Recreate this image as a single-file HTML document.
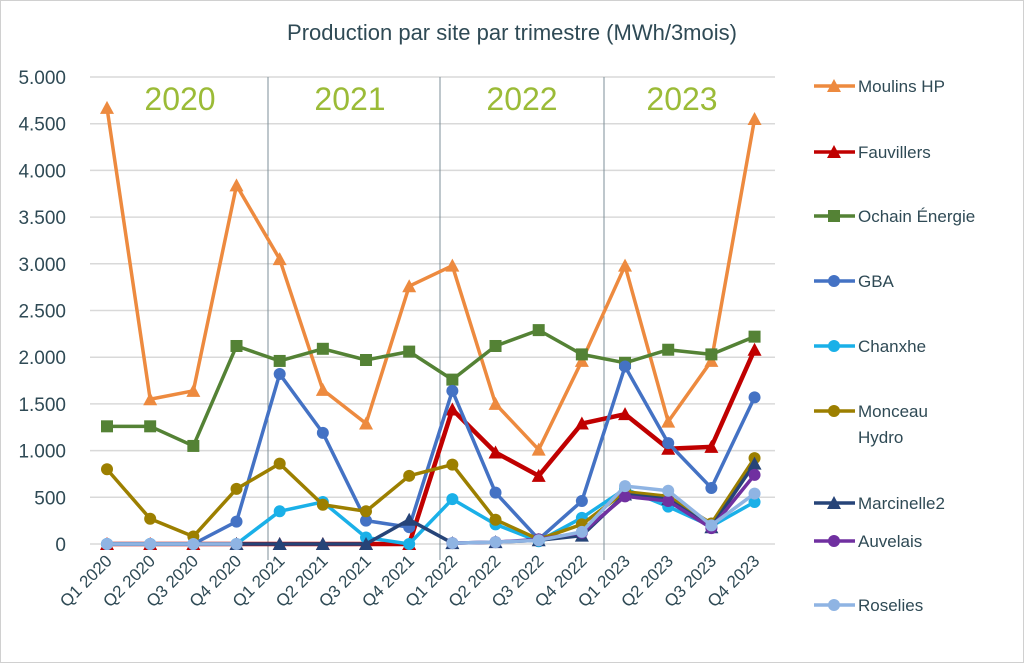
<!DOCTYPE html>
<html><head><meta charset="utf-8"><style>
body{margin:0;background:#fff}
svg{display:block;font-family:"Liberation Sans",sans-serif}
</style></head><body>
<svg id="c" width="1024" height="663" viewBox="0 0 1024 663" xmlns="http://www.w3.org/2000/svg">
<rect x="0.5" y="0.5" width="1023" height="662" fill="#fff" stroke="#d0d0d0"/>
<text x="512" y="40" text-anchor="middle" font-size="22" fill="#2f4a55">Production par site par trimestre (MWh/3mois)</text>
<g id="grid"></g>
<line x1="268" y1="77" x2="268" y2="560" stroke="#7d8f99" stroke-width="1"/>
<line x1="440" y1="77" x2="440" y2="560" stroke="#7d8f99" stroke-width="1"/>
<line x1="604" y1="77" x2="604" y2="560" stroke="#7d8f99" stroke-width="1"/>
<g font-size="32" fill="#9bbb37" text-anchor="middle">
<text x="180" y="110">2020</text><text x="350" y="110">2021</text>
<text x="522" y="110">2022</text><text x="682" y="110">2023</text></g>
<g id="series"></g>
<g id="legend" font-size="17" fill="#2f4a55"></g>
</svg>
<script>
const NS="http://www.w3.org/2000/svg";
function el(t,a,p,txt){const e=document.createElementNS(NS,t);for(const k in a)e.setAttribute(k,a[k]);if(txt!==undefined)e.textContent=txt;p.appendChild(e);return e;}
const g=document.getElementById('grid');
const X=i=>107+i*43.17, Y=v=>544-v*0.0934;
for(let v=0;v<=5000;v+=500){el('line',{x1:90,x2:775,y1:Y(v),y2:Y(v),stroke:'#d9d9d9','stroke-width':1.5},g);
 const lab=v>=1000?(v/1000).toFixed(3):String(v);
 el('text',{x:66,y:Y(v)+7,'text-anchor':'end','font-size':19,fill:'#2f4a55'},g,lab);}
const q=['Q1','Q2','Q3','Q4'];
for(let i=0;i<16;i++){const lab=q[i%4]+' '+(2020+Math.floor(i/4));
 el('text',{x:X(i)+6,y:562,'text-anchor':'end','font-size':17,fill:'#2f4a55',transform:`rotate(-45 ${X(i)+6} 562)`},g,lab);}
const N=null;
const S=[
['Moulins HP','#ed8a3f','tri',[4670,1550,1640,3840,3050,1650,1290,2760,2980,1500,1010,1960,2980,1310,1960,4550]],
['Fauvillers','#c00000','tri',[0,0,0,0,0,0,0,0,1440,980,730,1290,1390,1020,1040,2080]],
['Ochain Énergie','#548235','sq',[1260,1260,1050,2120,1960,2090,1970,2060,1760,2120,2290,2030,1940,2080,2030,2220]],
['GBA','#4472c4','ci',[0,0,0,240,1820,1190,250,180,1640,550,50,460,1900,1080,600,1570]],
['Chanxhe','#1ab0e8','ci',[0,0,0,0,350,450,70,0,480,210,30,280,590,400,190,450]],
['Monceau|Hydro','#9c7f00','ci',[800,270,80,590,860,420,350,730,850,260,50,210,560,510,220,920]],
['Marcinelle2','#264478','tri',[N,N,N,0,0,0,0,260,10,20,40,90,530,480,180,860]],
['Auvelais','#7030a0','ci',[N,N,N,N,N,N,N,N,10,20,50,120,510,460,170,740]],
['Roselies','#8fb4e3','ci',[0,0,0,0,N,N,N,N,10,20,40,130,620,570,200,540]]];
const sg=document.getElementById('series'), lg=document.getElementById('legend');
function mk(type,x,y,c,p){if(type==='tri')el('polygon',{points:`${x},${y-7} ${x-7},${y+6} ${x+7},${y+6}`,fill:c},p);
 else if(type==='sq')el('rect',{x:x-6,y:y-6,width:12,height:12,fill:c},p);
 else el('circle',{cx:x,cy:y,r:6,fill:c},p);}
const ly=[86,152,216,281,346,411,503,541,605];
S.forEach((s,k)=>{const [n,c,t,d]=s;let pts=[];
 const draw=()=>{if(pts.length>1)el('polyline',{points:pts.join(' '),fill:'none',stroke:c,'stroke-width':k==1?4.5:3.5,'stroke-linejoin':'round'},sg);pts=[];};
 d.forEach((v,i)=>{if(v===null){draw();}else pts.push(X(i)+','+Y(v));});draw();
 d.forEach((v,i)=>{if(v!==null)mk(t,X(i),Y(v),c,sg);});
 const y=ly[k];el('line',{x1:814,x2:855,y1:y,y2:y,stroke:c,'stroke-width':3.5},lg);mk(t,834,y,c,lg);
 const parts=n.split('|');parts.forEach((p,j)=>el('text',{x:858,y:y+6+j*26},lg,p));});
</script>
</body></html>
